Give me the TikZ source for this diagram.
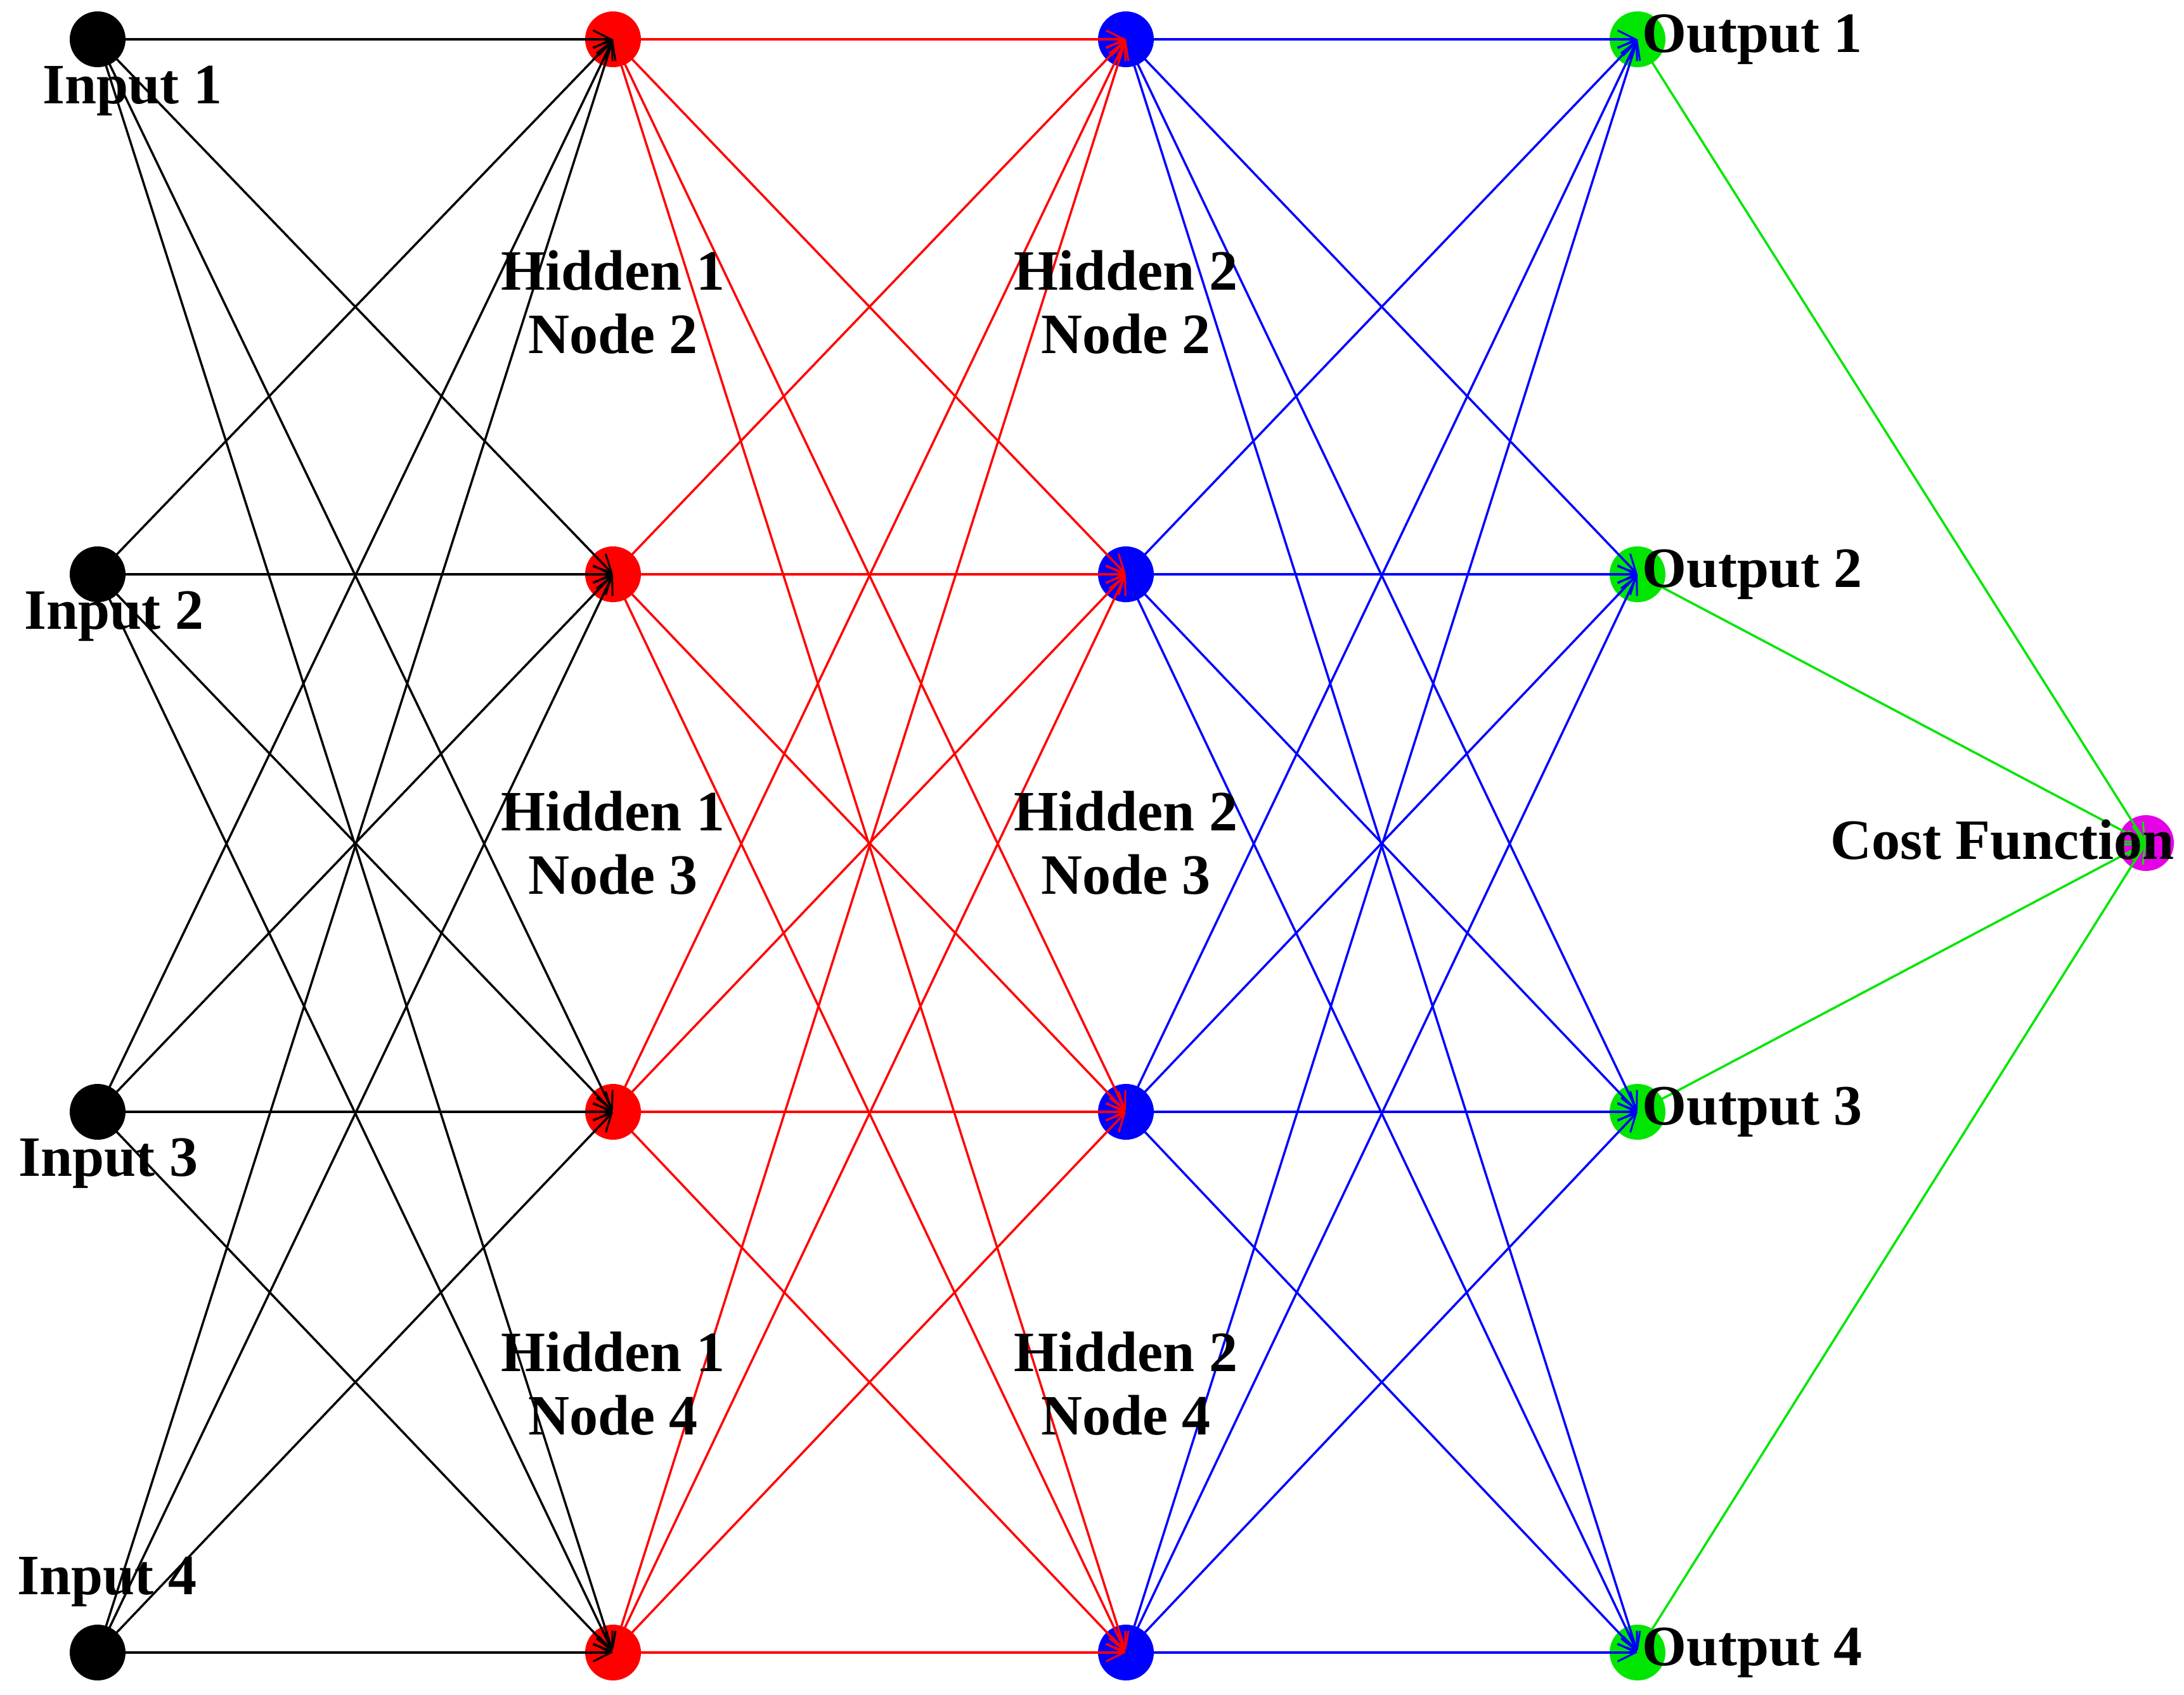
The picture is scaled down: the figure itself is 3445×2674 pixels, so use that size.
\documentclass[tikz,border=0pt]{standalone}
\usepackage{fontspec}
\setmainfont{Liberation Serif}
\usetikzlibrary{arrows.meta}
\definecolor{gr}{RGB}{0,230,0}
\definecolor{mg}{RGB}{230,0,230}
\begin{document}
\begin{tikzpicture}[x=1pt,y=-1pt,
  nd/.style={circle,minimum size=88pt,inner sep=0pt},
  lab/.style={font=\fontsize{90}{100}\selectfont\bfseries,inner sep=0pt,align=center},
  ed/.style={line width=3.5pt,-{Straight Barb[length=28pt,width=28pt,line width=3pt]}}]
\useasboundingbox (0,0) rectangle (3445,2674);
\def\ys{{62,906,1754,2607}}
\foreach \i/\y in {1/62,2/906,3/1754,4/2607}{
  \node[nd,fill=black] (a\i) at (154,\y) {};
  \node[nd,fill=red] (b\i) at (967,\y) {};
  \node[nd,fill=blue] (c\i) at (1776,\y) {};
  \node[nd,fill=gr] (d\i) at (2583,\y) {};
}
\node[nd,fill=mg] (e) at (3385,1330) {};
\foreach \i in {1,...,4}{\foreach \j in {1,...,4}{
  \draw[ed,black] (a\i.center) -- (b\j.center);
  \draw[ed,red] (b\i.center) -- (c\j.center);
  \draw[ed,blue] (c\i.center) -- (d\j.center);
}
\draw[ed,gr] (d\i.center) -- (e.center);}
\node[lab] (l1) at (209,143) {Input 1};
\node[lab] (l2) at (180,972) {Input 2};
\node[lab] (l3) at (171,1835) {Input 3};
\node[lab] (l4) at (169,2495) {Input 4};
\foreach \j/\y in {2/477,3/1330,4/2183}{
  \node[lab] (h1\j) at (967,\y) {Hidden 1\\Node \j};
  \node[lab] (h2\j) at (1776,\y) {Hidden 2\\Node \j};
}
\foreach \i/\y in {1/62,2/906,3/1754,4/2607}{
  \node[lab,anchor=west] (o\i) at (2590,\y) {Output \i};}
\node[lab,anchor=east] (cf) at (3430,1325) {Cost Function};
\end{tikzpicture}
\end{document}
